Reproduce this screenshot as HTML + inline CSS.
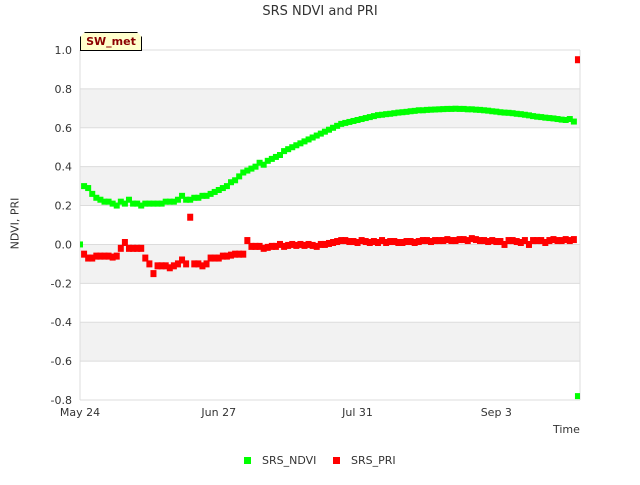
<!DOCTYPE html>
<html><head><meta charset="utf-8"><style>
body{margin:0;background:#fff;font-family:"Liberation Sans","DejaVu Sans",sans-serif}
svg text{font-family:"DejaVu Sans","Liberation Sans",sans-serif}
</style></head><body>
<svg id="c" width="640" height="480" viewBox="0 0 640 480"><defs><clipPath id="pc"><rect x="80" y="50" width="500" height="350"/></clipPath></defs></svg>
<script>
const tickVals=[1.0,0.8,0.6,0.4,0.2,0.0,-0.2,-0.4,-0.6,-0.8];
const tickLabels=["1.0","0.8","0.6","0.4","0.2","0.0","-0.2","-0.4","-0.6","-0.8"];
const dateTickDays=[0,34,68,102];
const dateTickLabels=["May 24","Jun 27","Jul 31","Sep 3"];
const ndvi=[0.00,0.30,0.29,0.26,0.24,0.23,0.22,0.22,0.21,0.20,0.22,0.21,0.23,0.21,0.21,0.20,0.21,0.21,0.21,0.21,0.21,0.22,0.22,0.22,0.23,0.25,0.23,0.23,0.24,0.24,0.25,0.25,0.26,0.27,0.28,0.29,0.30,0.32,0.33,0.35,0.37,0.38,0.39,0.40,0.42,0.41,0.43,0.44,0.45,0.46,0.48,0.49,0.50,0.51,0.52,0.53,0.54,0.55,0.56,0.57,0.58,0.59,0.60,0.61,0.62,0.625,0.63,0.635,0.64,0.645,0.65,0.655,0.66,0.665,0.667,0.67,0.672,0.675,0.678,0.68,0.682,0.685,0.687,0.69,0.69,0.692,0.693,0.694,0.695,0.696,0.697,0.697,0.698,0.697,0.697,0.695,0.695,0.693,0.692,0.69,0.688,0.685,0.683,0.68,0.678,0.677,0.675,0.672,0.67,0.667,0.664,0.66,0.657,0.655,0.652,0.65,0.648,0.645,0.642,0.64,0.645,0.632,-0.78];
const pri=[null,-0.05,-0.07,-0.07,-0.06,-0.06,-0.06,-0.06,-0.065,-0.06,-0.02,0.01,-0.02,-0.02,-0.02,-0.02,-0.07,-0.10,-0.15,-0.11,-0.11,-0.11,-0.12,-0.11,-0.10,-0.08,-0.10,0.14,-0.10,-0.10,-0.11,-0.10,-0.07,-0.07,-0.07,-0.06,-0.06,-0.055,-0.05,-0.05,-0.05,0.02,-0.01,-0.01,-0.01,-0.02,-0.015,-0.01,-0.01,0.0,-0.01,-0.005,0.0,-0.005,0.0,-0.005,0.0,-0.005,-0.01,0.0,0.0,0.005,0.01,0.015,0.02,0.02,0.015,0.015,0.01,0.02,0.015,0.01,0.015,0.01,0.02,0.01,0.015,0.015,0.01,0.01,0.015,0.015,0.01,0.015,0.02,0.02,0.015,0.02,0.02,0.02,0.025,0.02,0.02,0.025,0.025,0.02,0.03,0.025,0.02,0.02,0.015,0.02,0.015,0.015,0.0,0.02,0.02,0.015,0.01,0.02,0.0,0.02,0.02,0.02,0.01,0.02,0.025,0.02,0.02,0.025,0.02,0.025,0.95];
const svg=document.getElementById('c');const NS='http://www.w3.org/2000/svg';
const L=80,R=580,T=50,B=400,D0=0,D1=122.5;
const xs=d=>L+(d-D0)/(D1-D0)*(R-L);
const ys=v=>T+(1.0-v)/1.8*(B-T);
function mk(t,a,p){const e=document.createElementNS(NS,t);for(const k in a)e.setAttribute(k,a[k]);(p||svg).appendChild(e);return e;}
for(let i=0;i<tickVals.length-1;i++){if(i%2===1){const r=mk('rect',{x:L,y:ys(tickVals[i]),width:R-L,height:ys(tickVals[i+1])-ys(tickVals[i]),fill:'#f2f2f2'});

}}
tickVals.forEach((v,i)=>{const g=mk('line',{x1:L,x2:R,y1:ys(v),y2:ys(v),stroke:'#dcdcdc','stroke-width':1});


const t=mk('text',{x:72,y:ys(v)+4,'text-anchor':'end','font-size':11,fill:'#333'});t.textContent=tickLabels[i];

});
mk('line',{x1:L,x2:L,y1:T,y2:B,stroke:'#dcdcdc'});mk('line',{x1:R,x2:R,y1:T,y2:B,stroke:'#dcdcdc'});
dateTickDays.forEach((d,i)=>{const t=mk('text',{x:xs(d),y:416,'text-anchor':'middle','font-size':11,fill:'#333'});t.textContent=dateTickLabels[i];

});
const gp=mk('g',{'clip-path':'url(#pc)'});


ndvi.forEach((v,d)=>{if(v===null)return;const r=mk('rect',{x:xs(d)-3,y:ys(v)-3,width:6,height:6,fill:'#00ff00'},gp);

});
pri.forEach((v,d)=>{if(v===null)return;const r=mk('rect',{x:xs(d)-3,y:ys(v)-3.5,width:6,height:7,fill:'#ff0000'},gp);

});
</script>
<div style="position:absolute;left:0;top:0;width:640px;height:480px;pointer-events:none">
<div style="position:absolute;top:4px;width:640px;text-align:center;font-size:13px;color:#333;font-family:'DejaVu Sans',sans-serif">SRS NDVI and PRI</div>
<div style="position:absolute;left:-25px;top:217px;width:80px;text-align:center;white-space:nowrap;transform:rotate(-90deg);font-size:11px;color:#333;font-family:'DejaVu Sans',sans-serif">NDVI, PRI</div>
<div style="position:absolute;left:553px;top:423px;font-size:11px;color:#333;font-family:'DejaVu Sans',sans-serif">Time</div>
<div style="position:absolute;left:80px;top:32px;width:60px;height:17px;background:#ffffcc;border:1px solid #000;clip-path:polygon(5px 0,calc(100% - 5px) 0,100% 5px,100% 100%,0 100%,0 5px);font-size:11px;font-weight:bold;color:#8b0000;text-align:center;line-height:18px;font-family:'DejaVu Sans',sans-serif">SW_met</div>
<div style="position:absolute;top:454px;left:244px;font-size:11px;color:#333;font-family:'DejaVu Sans',sans-serif">
<span style="position:absolute;left:0;top:0;white-space:nowrap"><span style="display:inline-block;width:7px;height:7px;background:#00ff00;margin-right:11px"></span>SRS_NDVI</span>
<span style="position:absolute;left:89px;top:0;white-space:nowrap"><span style="display:inline-block;width:7px;height:7px;background:#ff0000;margin-right:11px"></span>SRS_PRI</span>
</div></div>
</body></html>
